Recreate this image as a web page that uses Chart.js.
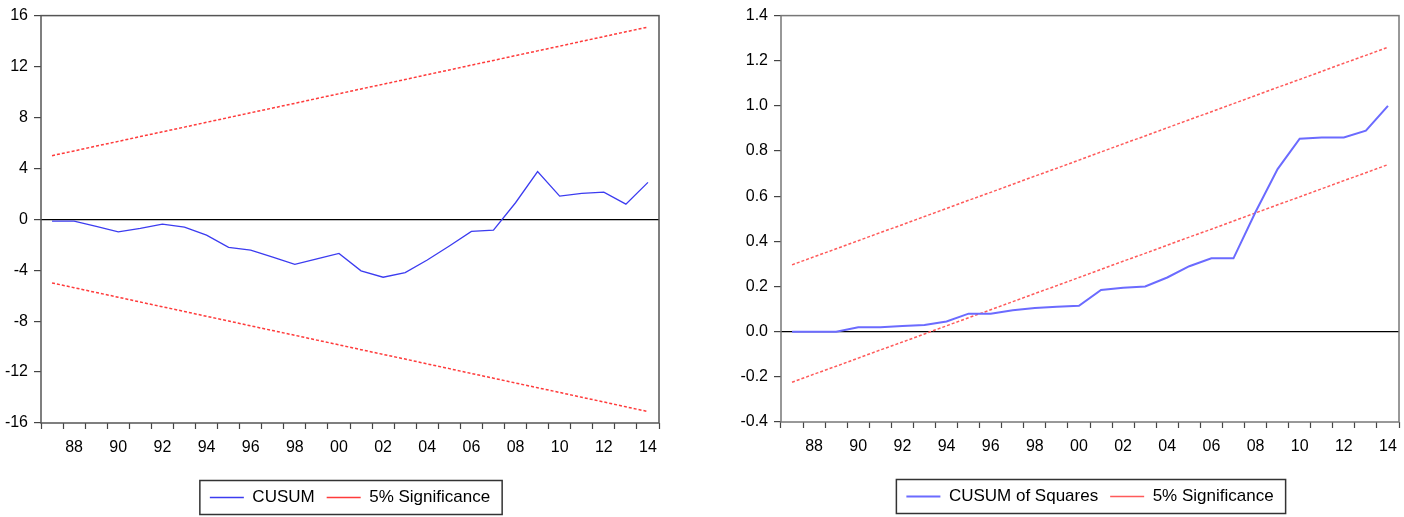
<!DOCTYPE html>
<html>
<head>
<meta charset="utf-8">
<script src="https://cdn.jsdelivr.net/npm/chart.js@4.4.0/dist/chart.umd.min.js"></script>
<style>
    html, body { margin: 0; padding: 0; background: #fff; overflow: hidden; }
    #left { position: absolute; left: 0; top: 0; width: 700px; height: 517px; }
    #right { position: absolute; left: 700px; top: 0; width: 780px; height: 517px; }
</style>
</head>
<body>
<div id="left"><canvas id="cusumChart"></canvas></div>
<div id="right"><canvas id="cusumSqChart"></canvas></div>
<script>
// Évek (kategóriák) és a tengely feliratai
const years = ['1987', '1988', '1989', '1990', '1991', '1992', '1993', '1994', '1995', '1996',
    '1997', '1998', '1999', '2000', '2001', '2002', '2003', '2004', '2005', '2006',
    '2007', '2008', '2009', '2010', '2011', '2012', '2013', '2014'];
const yearTicks = ['', '88', '', '90', '', '92', '', '94', '', '96',
    '', '98', '', '00', '', '02', '', '04', '', '06',
    '', '08', '', '10', '', '12', '', '14'];

// CUSUM
const cusum = [-0.15, -0.15, -0.55, -0.98, -0.72, -0.38, -0.62, -1.25, -2.2, -2.42,
    -2.98, -3.54, -3.1, -2.68, -4.05, -4.55, -4.18, -3.2, -2.1, -0.95,
    -0.85, 1.3, 3.75, 1.82, 2.03, 2.13, 1.19, 2.9];
const cusumUpper = [5.0, 5.37, 5.75, 6.12, 6.5, 6.87, 7.24, 7.62, 7.99, 8.37,
    8.74, 9.11, 9.49, 9.86, 10.24, 10.61, 10.98, 11.36, 11.73, 12.11,
    12.48, 12.86, 13.23, 13.6, 13.98, 14.35, 14.73, 15.1];
const cusumLower = [-5.0, -5.37, -5.75, -6.12, -6.5, -6.87, -7.24, -7.62, -7.99, -8.37,
    -8.74, -9.11, -9.49, -9.86, -10.24, -10.61, -10.98, -11.36, -11.73, -12.11,
    -12.48, -12.86, -13.23, -13.6, -13.98, -14.35, -14.73, -15.1];
const cusumYTicks = [-16, -12, -8, -4, 0, 4, 8, 12, 16];

// CUSUM of Squares
const cusumSq = [0, 0, 0, 0.02, 0.02, 0.025, 0.03, 0.045, 0.08, 0.08,
    0.095, 0.105, 0.11, 0.115, 0.185, 0.195, 0.2, 0.24, 0.29, 0.325,
    0.325, 0.53, 0.72, 0.855, 0.86, 0.86, 0.89, 1.0];
const sqUpper = [0.296, 0.332, 0.367, 0.403, 0.439, 0.474, 0.51, 0.546, 0.582, 0.617,
    0.653, 0.689, 0.724, 0.76, 0.796, 0.832, 0.867, 0.903, 0.939, 0.974,
    1.01, 1.046, 1.082, 1.117, 1.153, 1.189, 1.224, 1.26];
const sqLower = [-0.224, -0.188, -0.153, -0.117, -0.081, -0.046, -0.01, 0.026, 0.062, 0.097,
    0.133, 0.169, 0.204, 0.24, 0.276, 0.312, 0.347, 0.383, 0.419, 0.454,
    0.49, 0.526, 0.562, 0.597, 0.633, 0.669, 0.704, 0.74];
const sqYTicks = [-0.4, -0.2, 0, 0.2, 0.4, 0.6, 0.8, 1.0, 1.2, 1.4];

const FONT = "'Liberation Sans', Arial, sans-serif";

// Keret a rajzterület és a jelmagyarázat köré
const framePlugin = {
    id: 'frame',
    afterDraw(chart, args, opts) {
        const ctx = chart.ctx;
        const a = chart.chartArea;
        ctx.save();
        ctx.strokeStyle = opts.color;
        ctx.lineWidth = opts.width;
        ctx.strokeRect(a.left, a.top, a.right - a.left, a.bottom - a.top);

        const boxes = chart.legend.legendHitBoxes;
        if (boxes && boxes.length) {
            const first = boxes[0];
            const last = boxes[boxes.length - 1];
            const x1 = first.left - 10;
            const x2 = last.left + last.width + 12;
            const cy = first.top + first.height / 2;
            ctx.strokeStyle = opts.legendColor;
            ctx.lineWidth = 1.5;
            ctx.strokeRect(x1, cy - 17, x2 - x1, 34);
        }
        ctx.restore();
    }
};

function makeChart(canvasId, cfg) {
    const ctx = document.getElementById(canvasId).getContext('2d');
    return new Chart(ctx, {
        type: 'line',
        data: {
            labels: years,
            datasets: [
                {
                    label: cfg.mainLabel,
                    data: cfg.main,
                    borderColor: cfg.blue,
                    borderWidth: cfg.blueWidth,
                    pointRadius: 0,
                    tension: 0
                },
                {
                    label: '5% Significance',
                    data: cfg.upper,
                    borderColor: cfg.red,
                    borderWidth: 1.5,
                    borderDash: [3, 2],
                    pointRadius: 0,
                    tension: 0
                },
                {
                    label: 'lower',
                    data: cfg.lower,
                    borderColor: cfg.red,
                    borderWidth: 1.5,
                    borderDash: [3, 2],
                    pointRadius: 0,
                    tension: 0
                }
            ]
        },
        options: {
            responsive: true,
            maintainAspectRatio: false,
            devicePixelRatio: 1,
            animation: false,
            layout: { padding: { left: 0, right: 0, top: 11, bottom: cfg.padBottom } },
            plugins: {
                tooltip: { enabled: false },
                legend: {
                    position: 'bottom',
                    labels: {
                        filter: item => item.datasetIndex !== 2,
                        usePointStyle: true,
                        pointStyle: 'line',
                        pointStyleWidth: 34,
                        boxWidth: 34,
                        padding: 12,
                        color: '#000',
                        font: { family: FONT, size: 17 }
                    }
                },
                frame: { color: cfg.frameColor, width: 1.5, legendColor: '#333' }
            },
            scales: {
                x: {
                    type: 'category',
                    offset: true,
                    grid: {
                        offset: true,
                        drawOnChartArea: false,
                        drawTicks: true,
                        tickLength: 6,
                        tickColor: '#444',
                        tickWidth: 1.2
                    },
                    border: { display: false },
                    ticks: {
                        autoSkip: false,
                        maxRotation: 0,
                        minRotation: 0,
                        padding: 9,
                        color: '#000',
                        font: { family: FONT, size: 16 },
                        callback: (v, i) => yearTicks[i]
                    },
                    afterFit: s => { s.height = 54; }
                },
                y: {
                    type: 'linear',
                    position: 'left',
                    min: cfg.ticks[0],
                    max: cfg.ticks[cfg.ticks.length - 1],
                    afterBuildTicks: s => { s.ticks = cfg.ticks.map(v => ({ value: v })); },
                    grid: {
                        color: c => (c.tick && Math.abs(c.tick.value) < 1e-9) ? '#000' : 'rgba(0,0,0,0)',
                        lineWidth: 1.2,
                        tickLength: 7,
                        tickColor: '#444',
                        tickWidth: 1.2
                    },
                    border: { display: false },
                    ticks: {
                        padding: 6,
                        color: '#000',
                        font: { family: FONT, size: 16 },
                        callback: cfg.fmt
                    },
                    afterFit: s => { s.width = cfg.axisWidth; }
                },
                y2: {
                    type: 'linear',
                    position: 'right',
                    display: true,
                    grid: { display: false },
                    border: { display: false },
                    ticks: { display: false },
                    afterFit: s => { s.width = cfg.axisWidth; }
                }
            }
        },
        plugins: [framePlugin]
    });
}

makeChart('cusumChart', {
    mainLabel: 'CUSUM',
    main: cusum,
    upper: cusumUpper,
    lower: cusumLower,
    ticks: cusumYTicks,
    fmt: v => String(v),
    blue: '#3c3cf0',
    blueWidth: 1.3,
    red: '#ff3b3b',
    frameColor: '#555',
    axisWidth: 41,
    padBottom: 1
});

makeChart('cusumSqChart', {
    mainLabel: 'CUSUM of Squares',
    main: cusumSq,
    upper: sqUpper,
    lower: sqLower,
    ticks: sqYTicks,
    fmt: v => Number(v).toFixed(1),
    blue: '#6b6bff',
    blueWidth: 2,
    red: '#ff5a5a',
    frameColor: '#777',
    axisWidth: 81,
    padBottom: 2
});
</script>
</body>
</html>
